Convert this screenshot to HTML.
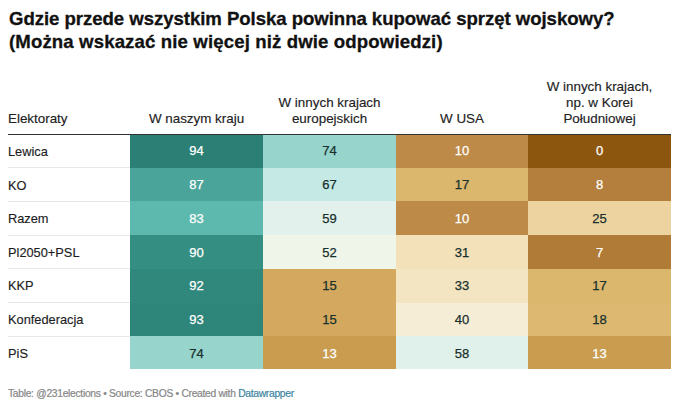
<!DOCTYPE html>
<html><head><meta charset="utf-8"><style>
*{margin:0;padding:0;box-sizing:border-box}
html,body{width:679px;height:408px;background:#fff;overflow:hidden}
body{position:relative;font-family:"Liberation Sans",sans-serif;color:#1d1d1d}
.t{position:absolute;left:9px;font-weight:bold;font-size:18.6px;color:#111;white-space:nowrap;line-height:1;-webkit-text-stroke:0.3px #111}
.h{position:absolute;font-size:13.4px;line-height:15.7px;text-align:center;color:#222;white-space:nowrap;-webkit-text-stroke:0.15px #222}
.c{position:absolute;font-size:13px;text-align:center;line-height:1;-webkit-text-stroke:0.25px currentColor}
.l{position:absolute;left:8px;font-size:12.8px;line-height:1;color:#1d1d1d;white-space:nowrap;-webkit-text-stroke:0.15px #1d1d1d}
.sep{position:absolute;left:8px;width:122px;height:1px;background:#e8e8e8}
.b{position:absolute}
.f{position:absolute;left:8px;top:0;font-size:10.3px;color:#868686;white-space:nowrap;line-height:1;letter-spacing:-0.3px;-webkit-text-stroke:0.2px currentColor}
</style></head><body>

<div class="t" style="top:9.76px;letter-spacing:-0.05px">Gdzie przede wszystkim Polska powinna kupować sprzęt wojskowy?</div>
<div class="t" style="top:33.36px;letter-spacing:0.13px">(Można wskazać nie więcej niż dwie odpowiedzi)</div>
<div class="l" style="top:111.86px;font-size:13.4px;color:#222">Elektoraty</div>
<div class="h" style="left:130px;width:133px;top:110.71px">W naszym kraju</div>
<div class="h" style="left:263px;width:133px;top:95.01px">W innych krajach<br>europejskich</div>
<div class="h" style="left:396px;width:132px;top:110.71px">W USA</div>
<div class="h" style="left:528px;width:143px;top:79.31px">W innych krajach,<br>np. w Korei<br>Południowej</div>
<div class="b" style="left:8px;top:134px;width:663px;height:1px;background:#333"></div>
<div class="l" style="top:146px">Lewica</div>
<div class="b" style="left:130px;top:135px;width:133px;height:33px;background:#2b7f74"></div>
<div class="c" style="left:130px;width:133px;top:144px;color:#fff">94</div>
<div class="b" style="left:263px;top:135px;width:133px;height:33px;background:#97d4cb"></div>
<div class="c" style="left:263px;width:133px;top:144px;color:#18302c">74</div>
<div class="b" style="left:396px;top:135px;width:132px;height:33px;background:#bd8a48"></div>
<div class="c" style="left:396px;width:132px;top:144px;color:#fff">10</div>
<div class="b" style="left:528px;top:135px;width:143px;height:33px;background:#8d560e"></div>
<div class="c" style="left:528px;width:143px;top:144px;color:#fff">0</div>
<div class="sep" style="top:167px"></div>
<div class="l" style="top:180px">KO</div>
<div class="b" style="left:130px;top:168px;width:133px;height:33px;background:#4ba49a"></div>
<div class="c" style="left:130px;width:133px;top:178px;color:#fff">87</div>
<div class="b" style="left:263px;top:168px;width:133px;height:33px;background:#c5e9e4"></div>
<div class="c" style="left:263px;width:133px;top:178px;color:#18302c">67</div>
<div class="b" style="left:396px;top:168px;width:132px;height:33px;background:#dbb66d"></div>
<div class="c" style="left:396px;width:132px;top:178px;color:#18302c">17</div>
<div class="b" style="left:528px;top:168px;width:143px;height:33px;background:#b47f3d"></div>
<div class="c" style="left:528px;width:143px;top:178px;color:#fff">8</div>
<div class="sep" style="top:201px"></div>
<div class="l" style="top:213px">Razem</div>
<div class="b" style="left:130px;top:201px;width:133px;height:34px;background:#5db8ad"></div>
<div class="c" style="left:130px;width:133px;top:212px;color:#fff">83</div>
<div class="b" style="left:263px;top:201px;width:133px;height:34px;background:#e2f1eb"></div>
<div class="c" style="left:263px;width:133px;top:212px;color:#18302c">59</div>
<div class="b" style="left:396px;top:201px;width:132px;height:34px;background:#bd8a48"></div>
<div class="c" style="left:396px;width:132px;top:212px;color:#fff">10</div>
<div class="b" style="left:528px;top:201px;width:143px;height:34px;background:#ecd3a0"></div>
<div class="c" style="left:528px;width:143px;top:212px;color:#18302c">25</div>
<div class="sep" style="top:235px"></div>
<div class="l" style="top:247px">Pl2050+PSL</div>
<div class="b" style="left:130px;top:235px;width:133px;height:34px;background:#348f82"></div>
<div class="c" style="left:130px;width:133px;top:246px;color:#fff">90</div>
<div class="b" style="left:263px;top:235px;width:133px;height:34px;background:#eff5e8"></div>
<div class="c" style="left:263px;width:133px;top:246px;color:#18302c">52</div>
<div class="b" style="left:396px;top:235px;width:132px;height:34px;background:#f3e1ba"></div>
<div class="c" style="left:396px;width:132px;top:246px;color:#18302c">31</div>
<div class="b" style="left:528px;top:235px;width:143px;height:34px;background:#b07a37"></div>
<div class="c" style="left:528px;width:143px;top:246px;color:#fff">7</div>
<div class="sep" style="top:268px"></div>
<div class="l" style="top:280px">KKP</div>
<div class="b" style="left:130px;top:269px;width:133px;height:34px;background:#30887c"></div>
<div class="c" style="left:130px;width:133px;top:279px;color:#fff">92</div>
<div class="b" style="left:263px;top:269px;width:133px;height:34px;background:#d4a95f"></div>
<div class="c" style="left:263px;width:133px;top:279px;color:#18302c">15</div>
<div class="b" style="left:396px;top:269px;width:132px;height:34px;background:#f4e5c2"></div>
<div class="c" style="left:396px;width:132px;top:279px;color:#18302c">33</div>
<div class="b" style="left:528px;top:269px;width:143px;height:34px;background:#dbb66d"></div>
<div class="c" style="left:528px;width:143px;top:279px;color:#18302c">17</div>
<div class="sep" style="top:302px"></div>
<div class="l" style="top:314px">Konfederacja</div>
<div class="b" style="left:130px;top:303px;width:133px;height:33px;background:#2e8579"></div>
<div class="c" style="left:130px;width:133px;top:313px;color:#fff">93</div>
<div class="b" style="left:263px;top:303px;width:133px;height:33px;background:#d4a95f"></div>
<div class="c" style="left:263px;width:133px;top:313px;color:#18302c">15</div>
<div class="b" style="left:396px;top:303px;width:132px;height:33px;background:#f6edd6"></div>
<div class="c" style="left:396px;width:132px;top:313px;color:#18302c">40</div>
<div class="b" style="left:528px;top:303px;width:143px;height:33px;background:#dcb871"></div>
<div class="c" style="left:528px;width:143px;top:313px;color:#18302c">18</div>
<div class="sep" style="top:336px"></div>
<div class="l" style="top:348px">PiS</div>
<div class="b" style="left:130px;top:336px;width:133px;height:33px;background:#97d4cb"></div>
<div class="c" style="left:130px;width:133px;top:347px;color:#18302c">74</div>
<div class="b" style="left:263px;top:336px;width:133px;height:33px;background:#c99c50"></div>
<div class="c" style="left:263px;width:133px;top:347px;color:#fff">13</div>
<div class="b" style="left:396px;top:336px;width:132px;height:33px;background:#e0f0ea"></div>
<div class="c" style="left:396px;width:132px;top:347px;color:#18302c">58</div>
<div class="b" style="left:528px;top:336px;width:143px;height:33px;background:#c99c50"></div>
<div class="c" style="left:528px;width:143px;top:347px;color:#fff">13</div>
<div class="f" style="top:388.88px">Table: @231elections • Source: CBOS • Created with <span style="color:#3d85a2">Datawrapper</span></div>
</body></html>
